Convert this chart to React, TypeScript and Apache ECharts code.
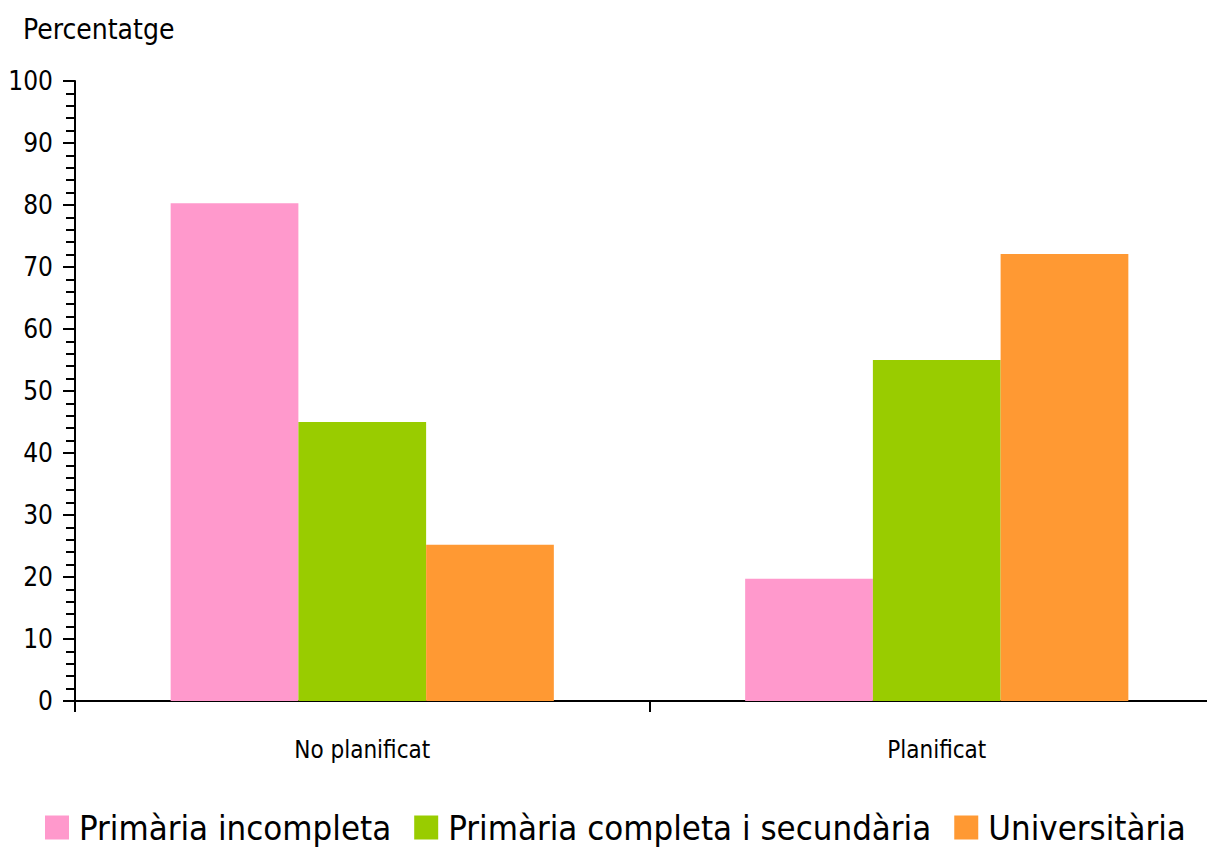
import React, { useEffect, useRef } from "react";
import * as echarts from "echarts";

const categories = ["No planificat", "Planificat"];
const seriesNames = ["Primària incompleta", "Primària completa i secundària", "Universitària"];
const primariaIncompleta = [80.3, 19.7];
const primariaCompleta = [45.0, 55.0];
const universitaria = [25.2, 72.1];
const colors = ["#FF99CC", "#99CC00", "#FF9933"];
const FONT = "'Liberation Sans Narrow', 'DejaVu Sans Condensed', Arial, sans-serif";

export default function App() {
  const ref = useRef<HTMLDivElement>(null);
  useEffect(() => {
    if (!ref.current) return;
    const chart = echarts.init(ref.current, null, { renderer: "svg" });
    const values = [primariaIncompleta, primariaCompleta, universitaria];
    chart.setOption({
      animation: false,
      backgroundColor: "#ffffff",
      textStyle: { fontFamily: FONT },
      title: {
        text: "Percentatge",
        left: 18,
        top: 10,
        textStyle: { fontFamily: FONT, fontSize: 28, fontWeight: "normal", color: "#000" },
      },
      legend: {
        bottom: 4,
        left: 40,
        icon: "rect",
        itemWidth: 24,
        itemHeight: 24,
        itemGap: 23,
        textStyle: { fontFamily: FONT, fontSize: 34.5, color: "#000", padding: [0, 0, 0, 5] },
        data: seriesNames,
      },
      grid: { left: 75, right: 0, top: 81, bottom: 153, containLabel: false },
      xAxis: {
        type: "category",
        data: categories,
        axisLine: { lineStyle: { color: "#000", width: 2 } },
        axisTick: { show: true, length: 11, alignWithLabel: false, lineStyle: { color: "#000", width: 2 } },
        axisLabel: { fontFamily: FONT, fontSize: 24, color: "#000", margin: 37 },
      },
      yAxis: {
        type: "value",
        min: 0,
        max: 100,
        interval: 10,
        axisLine: { show: true, lineStyle: { color: "#000", width: 2 } },
        axisTick: { show: true, length: 12, lineStyle: { color: "#000", width: 2 } },
        minorTick: { show: true, splitNumber: 5, length: 9, lineStyle: { color: "#000", width: 2 } },
        splitLine: { show: false },
        axisLabel: { fontFamily: FONT, fontSize: 26, color: "#000", margin: 22 },
      },
      series: seriesNames.map((name, i) => ({
        name,
        type: "bar",
        data: values[i],
        barGap: "0%",
        barCategoryGap: "33.3%",
        itemStyle: { color: colors[i] },
      })),
    });
    return () => chart.dispose();
  }, []);
  return (
    <div
      ref={ref}
      style={{ position: "fixed", left: 0, top: 0, width: 1224, height: 854 }}
    />
  );
}
